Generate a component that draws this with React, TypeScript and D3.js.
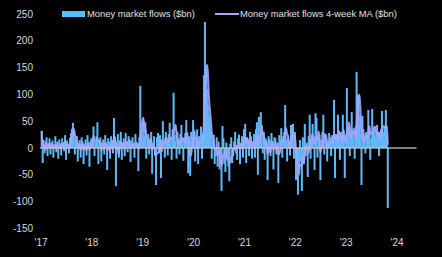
import React from "react";
import * as d3 from "d3";

const W = 442;
const H = 257;

const years = [2017, 2018, 2019, 2020, 2021, 2022, 2023];

const flows2017 = [32, -28, 15, -10, 12, 20, -15, 8, 18, -12, 10, 14, -18, 6, 22, -8, 12, -20, 16, 9, -14, 18, 11, -6, 24, -22, 14, 8, -10, 19, 28, 36, 47, 30, -12, 18, 22, -25, 10, 15, -18, 20, 12, -30, 8, 16, -14, 24, 10, -35, 14, 18];
const flows2018 = [18, 40, -15, 12, 22, 48, -30, 14, 20, -25, 10, 16, -12, 24, 8, -41, 18, 12, -20, 22, 15, -10, 56, 20, -71, 12, 26, -18, 14, 30, -22, 10, 18, -15, 28, 12, -8, 22, 16, -26, 14, 20, 10, -18, 26, 12, 8, -43, 20, 116, 35, 24];
const flows2019 = [50, 22, 48, -20, 14, 26, -12, 18, 30, -48, 10, 22, -15, -69, 20, 28, -10, 24, -56, 16, 50, 12, -18, 30, 20, -14, 26, 47, 18, -22, 35, 103, 24, 12, -20, 30, 18, -12, 26, 43, 16, -24, 20, 28, 52, 14, -47, 22, -52, 30, 18, 52];
const flows2020 = [30, -25, 18, 35, -30, 22, 14, 40, -20, 28, 136, 235, 140, 110, 80, 60, 45, 30, -20, 15, 25, -30, -15, 20, -35, 12, -40, -25, -80, 41, 18, -30, -45, 10, -20, -35, -62, 8, 20, -28, -15, 12, 30, -10, -22, 18, 25, -30, 10, 22, -18, 35];
const flows2021 = [45, -28, 20, 15, -15, 30, 22, -20, 12, 26, -18, 35, 48, -50, 58, 20, 67, 25, -10, 30, -22, 18, 14, -60, 22, 16, -15, 28, 12, -40, 20, 18, -12, 10, -65, 24, 15, 37, -18, 22, 30, 80, 16, -25, 20, 12, -14, 43, 28, 45, -20, 30];
const flows2022 = [-60, -20, -87, -35, 15, -25, -80, 20, -30, 45, -15, 10, -54, 22, 62, -20, 18, 45, 12, -41, 65, 56, -18, 20, 25, -60, 15, 30, 62, -12, 22, 18, -25, 14, 28, 20, -15, 24, 12, 90, -56, 26, 18, 62, 20, -22, 30, 24, 62, 18, -56, 25];
const flows2023 = [112, 20, 35, -15, 28, 67, 30, 18, -20, 40, 142, 100, 95, 60, 25, -69, 60, 35, 20, -10, 30, 22, 71, 40, -22, 18, 73, 35, 30, 20, 25, 43, 28, -15, 30, 35, 69, 30, 22, 40, 71, 25, -112];

const flowsByYear = [flows2017, flows2018, flows2019, flows2020, flows2021, flows2022, flows2023];

const yTicks = [250, 200, 150, 100, 50, 0, -50, -100, -150];
const xTickYears = [2017, 2018, 2019, 2020, 2021, 2022, 2023, 2024];
const xTickLabels = ["'17", "'18", "'19", "'20", "'21", "'22", "'23", "'24"];
const legendLabels = ["Money market flows ($bn)", "Money market flows 4-week MA ($bn)"];

const BAR_COLOR = "#62b8f8";
const LEGEND_BAR = "#4fc3ff";
const LINE_COLOR = "#a9a4ff";

type Pt = { date: Date; value: number; ma: number };

const points: Pt[] = [];
years.forEach((yr, yi) => {
  flowsByYear[yi].forEach((v, k) => {
    points.push({ date: new Date(yr, 0, 6 + 7 * k), value: v, ma: 0 });
  });
});
points.forEach((p, i) => {
  const win = points.slice(Math.max(0, i - 3), i + 1);
  p.ma = d3.mean(win, (d) => d.value) as number;
});

export default function App() {
  const x = d3
    .scaleTime()
    .domain([new Date(2017, 0, 1), new Date(2024, 0, 1)])
    .range([41, 397]);
  const y = d3.scaleLinear().domain([-150, 250]).range([228.4, 14]);

  const line = d3
    .line<Pt>()
    .x((d) => x(d.date))
    .y((d) => y(d.ma))
    .curve(d3.curveMonotoneX);

  const area = d3
    .area<Pt>()
    .x((d) => x(d.date))
    .y0(y(0))
    .y1((d) => y(d.ma))
    .curve(d3.curveMonotoneX);

  const barW = 2;
  const font = "'Liberation Sans', Arial, sans-serif";
  const zeroEnd = x(new Date(2024, 4, 20));

  return (
    <div style={{ position: "fixed", left: 0, top: 0, width: W, height: H }}>
      <svg width={W} height={H} style={{ display: "block", background: "#000" }}>
        <rect x={0} y={0} width={W} height={H} fill="#000" />
        {yTicks.map((t) => (
          <text
            key={t}
            x={33}
            y={y(t)}
            dy="0.35em"
            textAnchor="end"
            fill="#d8d8d8"
            fontSize={10}
            fontFamily={font}
          >
            {t}
          </text>
        ))}
        {xTickYears.map((yr, i) => (
          <text
            key={yr}
            x={x(new Date(yr, 0, 1))}
            y={246}
            textAnchor="middle"
            fill="#d8d8d8"
            fontSize={10}
            fontFamily={font}
          >
            {xTickLabels[i]}
          </text>
        ))}
        <path d={area(points) || ""} fill={LINE_COLOR} opacity={0.4} />
        {points.map((p, i) => (
          <rect
            key={i}
            x={x(p.date) - barW / 2}
            y={Math.min(y(p.value), y(0))}
            width={barW}
            height={Math.abs(y(p.value) - y(0))}
            fill={BAR_COLOR}
          />
        ))}
        <path d={line(points) || ""} fill="none" stroke={LINE_COLOR} strokeWidth={2} opacity={0.9} />
        <line x1={40} x2={zeroEnd} y1={y(0)} y2={y(0)} stroke="#c8c8c8" strokeWidth={1.5} opacity={0.85} />
        <rect x={62} y={11} width={23} height={6} fill={LEGEND_BAR} />
        <text x={87} y={14} dy="0.35em" fill="#e0e0e0" fontSize={9.4} fontFamily={font}>
          {legendLabels[0]}
        </text>
        <line x1={215} x2={239} y1={14} y2={14} stroke={LINE_COLOR} strokeWidth={2} />
        <text x={240} y={14} dy="0.35em" fill="#e0e0e0" fontSize={9.4} fontFamily={font}>
          {legendLabels[1]}
        </text>
      </svg>
    </div>
  );
}
